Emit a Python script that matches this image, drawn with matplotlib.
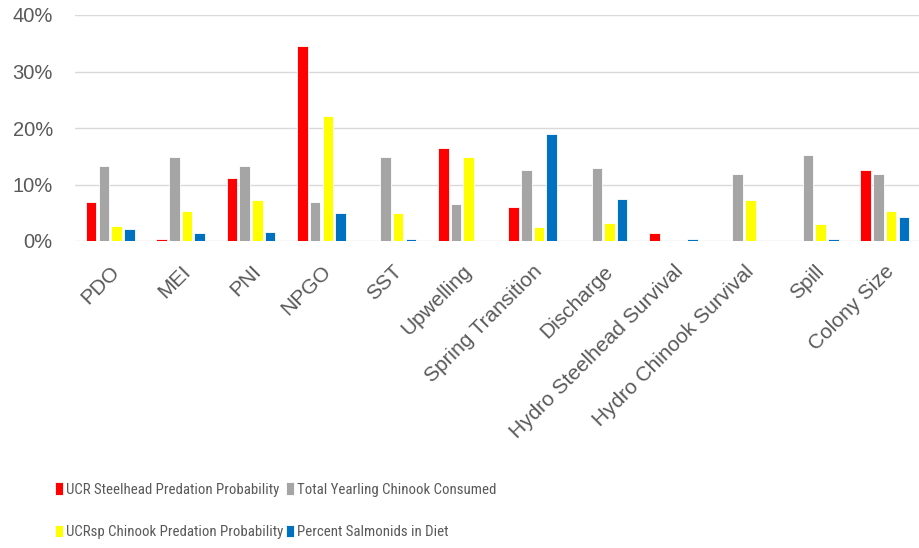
import matplotlib
matplotlib.use("Agg")
import matplotlib.pyplot as plt
import numpy as np
from matplotlib.ticker import FuncFormatter
from matplotlib import font_manager

categories = ["PDO", "MEI", "PNI", "NPGO", "SST", "Upwelling", "Spring Transition",
              "Discharge", "Hydro Steelhead Survival", "Hydro Chinook Survival",
              "Spill", "Colony Size"]
series_names = ["UCR Steelhead Predation Probability", "Total Yearling Chinook Consumed",
                "UCRsp Chinook Predation Probability", "Percent Salmonids in Diet"]
ucr_steelhead = [6.9, 0.3, 11.1, 34.6, 0.0, 16.4, 6.1, 0.0, 1.4, 0.0, 0.0, 12.5]
total_chinook = [13.2, 14.8, 13.2, 6.9, 14.8, 6.6, 12.5, 13.0, 0.0, 11.8, 15.2, 11.8]
ucrsp_chinook = [2.7, 5.3, 7.3, 22.1, 5.0, 14.8, 2.5, 3.2, 0.0, 7.3, 3.0, 5.3]
pct_salmonids = [2.1, 1.4, 1.6, 5.0, 0.3, 0.0, 18.9, 7.5, 0.3, 0.0, 0.3, 4.3]
yticks = [0, 10, 20, 30, 40]
colors = ["#FF0000", "#A5A5A5", "#FFFF00", "#0070C0"]

names = {f.name for f in font_manager.fontManager.ttflist}
leg_font = 'Liberation Sans'
for cand in ['Liberation Sans Narrow', 'Roboto Condensed', 'Open Sans Condensed',
             'Noto Sans Condensed', 'Liberation Sans']:
    if cand in names:
        leg_font = cand
        break

plt.rcParams['font.family'] = ['Liberation Sans', 'DejaVu Sans']
fig = plt.figure(figsize=(9.2, 5.48), dpi=100)
ax = fig.add_axes([75/920, 1 - 241/548, 845/920, (241 - 15)/548])

# size the legend font so the first entry's width is close to the reference (~202 px)
renderer = fig.canvas.get_renderer()
tmp = fig.text(0, 0, series_names[0], family=leg_font, size=10)
ext = tmp.get_window_extent(renderer)
tmp.remove()
leg_size = 10 * 212 / ext.width
leg_px = leg_size * 100 / 72
text_h = ext.height * leg_size / 10

x = np.arange(len(categories))
w = 0.15
data = [ucr_steelhead, total_chinook, ucrsp_chinook, pct_salmonids]
handles = []
for i, (vals, c) in enumerate(zip(data, colors)):
    b = ax.bar(x + (i - 1.5) * w * 1.2, vals, width=w, color=c, edgecolor='white',
               linewidth=0.6, zorder=3, label=series_names[i])
    handles.append(b)

ax.set_xlim(-0.5, len(categories) - 0.5)
ax.set_ylim(0, 40)
ax.set_yticks(yticks)
ax.yaxis.set_major_formatter(FuncFormatter(lambda v, p: f"{int(v)}%"))
ax.grid(axis='y', color='#D9D9D9', linewidth=1, zorder=0)
for s in ax.spines.values():
    s.set_visible(False)
ax.tick_params(axis='both', length=0, colors='#595959', labelsize=14.5)
ax.tick_params(axis='y', pad=16)
ax.set_xticks(x)
ax.set_xticklabels(categories, rotation=45, ha='right', rotation_mode='anchor', fontsize=15,
                   color='#595959')
ax.tick_params(axis='x', pad=15)

hh = 13 / leg_px
row_h = max(text_h, 13)
lspace = (43 - row_h) / leg_px
order = [0, 2, 1, 3]
leg = fig.legend(handles=[handles[i] for i in order], labels=[series_names[i] for i in order],
                 loc='upper left', bbox_to_anchor=(55/920, 1 - (490 - row_h / 2) / 548),
                 ncol=2, frameon=False,
                 prop={'family': leg_font, 'size': leg_size}, handlelength=8 / leg_px,
                 handleheight=hh, handletextpad=3 / leg_px, columnspacing=3 / leg_px,
                 labelspacing=lspace, labelcolor='#595959', borderpad=0, borderaxespad=0)

fig.savefig("out.png", dpi=100)
